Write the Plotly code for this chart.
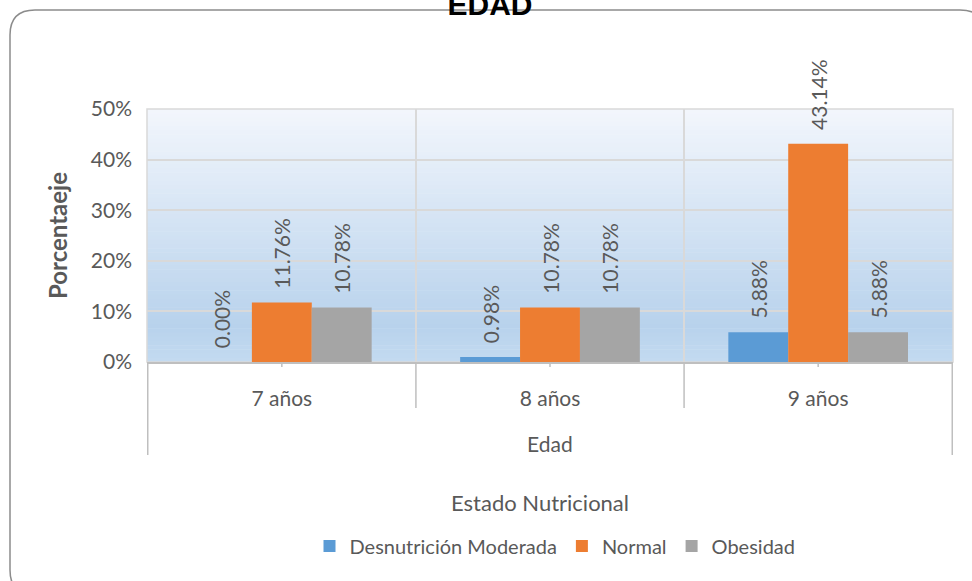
import plotly.graph_objects as go

categories = ["7 años", "8 años", "9 años"]
series_names = ["Desnutrición Moderada", "Normal", "Obesidad"]
desnutricion = [0.0, 0.0098, 0.0588]
normal = [0.1176, 0.1078, 0.4314]
obesidad = [0.1078, 0.1078, 0.0588]
colors = ["#5B9BD5", "#ED7D31", "#A5A5A5"]
y_ticks = [0, 0.1, 0.2, 0.3, 0.4, 0.5]

FONT = "Lato"
TXT = "#595959"

fig = go.Figure()
for name, vals, col in zip(series_names, [desnutricion, normal, obesidad], colors):
    fig.add_trace(go.Bar(
        x=categories, y=vals, name=name,
        marker=dict(color=col, line=dict(width=0)),
        texttemplate="\u00a0\u00a0%{y:.2%}",
        textposition="outside", textangle=-90,
        textfont=dict(family=FONT, size=21, color=TXT),
        constraintext="none", cliponaxis=False,
    ))

# plot area pixel geometry
L, R, T, B = 147, 953, 109, 362
W, H = 972, 581
pw, ph = R - L, B - T

def py(p):  # pixel y -> paper y
    return (B - p) / ph

shapes = []
# gradient background
def lerp(c1, c2, t):
    return tuple(round(a + (b - a) * t) for a, b in zip(c1, c2))
top_c = (242, 246, 252)
mid_c = (184, 210, 236)
bot_c = (196, 219, 241)
N = 60
for i in range(N):
    f = i / N  # from top
    if f < 0.85:
        c = lerp(top_c, mid_c, f / 0.85)
    else:
        c = lerp(mid_c, bot_c, (f - 0.85) / 0.15)
    shapes.append(dict(type="rect", xref="x domain", yref="y domain",
                       x0=0, x1=1, y0=1 - (i + 1) / N - 0.002, y1=1 - i / N,
                       fillcolor="rgb(%d,%d,%d)" % c, line=dict(width=0), layer="below"))
# plot border
shapes.append(dict(type="rect", xref="paper", yref="paper", x0=0, x1=1, y0=0, y1=1,
                   line=dict(color="#D9D9D9", width=1.5), layer="below"))
# category boundary lines below axis
n = len(categories)
for i in range(n + 1):
    outer = i in (0, n)
    shapes.append(dict(type="line", xref="x", yref="paper", x0=i - 0.5, x1=i - 0.5,
                       y0=0, y1=py(455 if outer else 408),
                       line=dict(color="#BFBFBF", width=1.5)))
for i in range(n):
    shapes.append(dict(type="line", xref="x", yref="paper", x0=i, x1=i,
                       y0=0, y1=py(367), line=dict(color="#BFBFBF", width=1.5)))
# rounded chart border (pixel sized, anchored at plot top-left)
bl, br, bt, bb, r = 10 - L, 985 - L, T - 10, T - 595, 25
path = (f"M {bl+r},{bt} L {br-r},{bt} Q {br},{bt} {br},{bt-r} L {br},{bb+r} "
        f"Q {br},{bb} {br-r},{bb} L {bl+r},{bb} Q {bl},{bb} {bl},{bb+r} "
        f"L {bl},{bt-r} Q {bl},{bt} {bl+r},{bt} Z")
shapes.append(dict(type="path", xref="paper", yref="paper", xsizemode="pixel",
                   ysizemode="pixel", xanchor=0, yanchor=1, path=path,
                   line=dict(color="#8C8C8C", width=1.5)))

annotations = [
    dict(text="Edad", xref="paper", yref="paper", x=(550 - L) / pw, y=py(443),
         showarrow=False, font=dict(family=FONT, size=21, color=TXT), xanchor="center", yanchor="middle"),
    dict(text="Estado Nutricional", xref="paper", yref="paper", x=(540 - L) / pw, y=py(502),
         showarrow=False, font=dict(family=FONT, size=22, color=TXT), xanchor="center", yanchor="middle"),
]

fig.update_layout(
    width=W, height=H,
    margin=dict(l=L, r=W - R, t=T, b=H - B),
    paper_bgcolor="white", plot_bgcolor="white",
    barmode="group", bargap=0.33, bargroupgap=0,
    title=dict(text="<b>EDAD</b>", x=(490) / W, xanchor="center", xref="container",
               yref="container", y=1 - 4 / H, yanchor="middle",
               font=dict(family="Liberation Sans", size=30, color="black")),
    font=dict(family=FONT, color=TXT),
    showlegend=True,
    legend=dict(orientation="h", x=(555 - L) / pw, xanchor="center", y=py(546), yanchor="middle",
                font=dict(family=FONT, size=20, color=TXT), traceorder="normal",
                itemwidth=30, bgcolor="rgba(0,0,0,0)"),
    shapes=shapes, annotations=annotations,
)
fig.update_xaxes(type="category", tickson="boundaries", ticks="", showgrid=True,
                 gridcolor="#D9D9D9", gridwidth=1.5, showline=True, linecolor="#BFBFBF",
                 linewidth=1.5, tickfont=dict(family=FONT, size=21, color=TXT),
                 ticklabelstandoff=17)
fig.update_yaxes(range=[0, 0.5], tickvals=y_ticks, tickformat=".0%", showgrid=True,
                 gridcolor="#D9D9D9", gridwidth=1.5, zeroline=False, ticks="",
                 tickfont=dict(family=FONT, size=21, color=TXT), ticklabelstandoff=14,
                 title=dict(text="<b>Porcentaeje</b>", font=dict(family=FONT, size=24, color=TXT),
                            standoff=16))
fig.write_html("out.html", config={"displayModeBar": False},
               post_script="document.body.style.margin='0';")
